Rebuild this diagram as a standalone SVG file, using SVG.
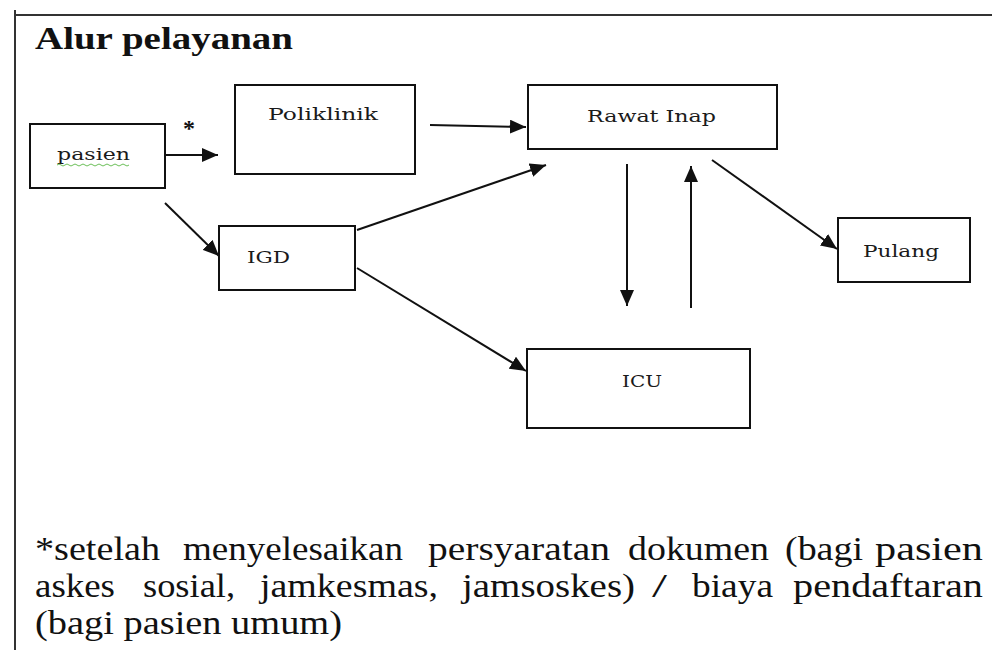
<svg xmlns="http://www.w3.org/2000/svg" width="992" height="650" viewBox="0 0 992 650">
<style>
.box{fill:#fff;stroke:#111;stroke-width:2}
.lbl{font-family:"DejaVu Serif","Liberation Serif",serif;font-size:17px;fill:#1a1a1a}
.conn line{stroke:#111;stroke-width:2}
.title{font-family:"Liberation Serif","Times New Roman",serif;font-weight:bold;font-size:31px;fill:#111}
.note{font-family:"Liberation Serif","Times New Roman",serif;font-size:34px;fill:#111}
</style>
<defs>
<marker id="a" viewBox="0 0 16 14" refX="16" refY="7" markerWidth="16" markerHeight="14" markerUnits="userSpaceOnUse" orient="auto">
<path d="M0,0 L16,7 L0,14 z" fill="#111"/>
</marker>
</defs>
<rect width="992" height="650" fill="#fff"/>
<line x1="14" y1="15" x2="992" y2="15" stroke="#333" stroke-width="2"/>
<line x1="15" y1="10" x2="15" y2="650" stroke="#333" stroke-width="2"/>
<text class="title" x="35" y="49" textLength="258" lengthAdjust="spacingAndGlyphs">Alur pelayanan</text>

<g id="connectors" class="conn">
<line x1="166" y1="155" x2="218" y2="155" marker-end="url(#a)"/>
<line x1="430" y1="125" x2="526" y2="127" marker-end="url(#a)"/>
<line x1="165" y1="203" x2="219" y2="256" marker-end="url(#a)"/>
<line x1="357" y1="230" x2="546" y2="165" marker-end="url(#a)"/>
<line x1="357" y1="268" x2="526" y2="371" marker-end="url(#a)"/>
<line x1="627" y1="164" x2="627" y2="306" marker-end="url(#a)"/>
<line x1="691" y1="308" x2="691" y2="166" marker-end="url(#a)"/>
<line x1="712" y1="160" x2="837" y2="249" marker-end="url(#a)"/>
</g>
<text x="183" y="136" font-family="Liberation Serif,serif" font-weight="bold" font-size="24" fill="#111">*</text>

<g id="pasien">
<rect class="box" x="30" y="124" width="135" height="64"/>
<text class="lbl" x="57" y="160" textLength="73" lengthAdjust="spacingAndGlyphs">pasien</text>
<path d="M57,165 q2,-2 4,0 t4,0 t4,0 t4,0 t4,0 t4,0 t4,0 t4,0 t4,0 t4,0 t4,0 t4,0 t4,0 t4,0 t4,0 t4,0 t4,0 t4,0" fill="none" stroke="#6bbf59" stroke-width="1"/>
</g>
<g id="poliklinik">
<rect class="box" x="235" y="85" width="180" height="89"/>
<text class="lbl" x="268" y="120" textLength="110" lengthAdjust="spacingAndGlyphs">Poliklinik</text>
</g>
<g id="rawat-inap">
<rect class="box" x="528" y="85" width="249" height="64"/>
<text class="lbl" x="587" y="122" textLength="129" lengthAdjust="spacingAndGlyphs">Rawat Inap</text>
</g>
<g id="igd">
<rect class="box" x="219" y="226" width="136" height="64"/>
<text class="lbl" x="247" y="263" textLength="43" lengthAdjust="spacingAndGlyphs">IGD</text>
</g>
<g id="icu">
<rect class="box" x="527" y="349" width="223" height="79"/>
<text class="lbl" x="622" y="387" textLength="40" lengthAdjust="spacingAndGlyphs">ICU</text>
</g>
<g id="pulang">
<rect class="box" x="838" y="218" width="132" height="64"/>
<text class="lbl" x="863" y="257" textLength="76" lengthAdjust="spacingAndGlyphs">Pulang</text>
</g>

<g class="note">
<text x="35" y="560" textLength="125" lengthAdjust="spacingAndGlyphs">*setelah</text>
<text x="183" y="560" textLength="220" lengthAdjust="spacingAndGlyphs">menyelesaikan</text>
<text x="428" y="560" textLength="182" lengthAdjust="spacingAndGlyphs">persyaratan</text>
<text x="628" y="560" textLength="141" lengthAdjust="spacingAndGlyphs">dokumen</text>
<text x="785" y="560" textLength="78" lengthAdjust="spacingAndGlyphs">(bagi</text>
<text x="875" y="560" textLength="108" lengthAdjust="spacingAndGlyphs">pasien</text>
<text x="35" y="597" textLength="80" lengthAdjust="spacingAndGlyphs">askes</text>
<text x="143" y="597" textLength="92" lengthAdjust="spacingAndGlyphs">sosial,</text>
<text x="260" y="597" textLength="178" lengthAdjust="spacingAndGlyphs">jamkesmas,</text>
<text x="462" y="597" textLength="173" lengthAdjust="spacingAndGlyphs">jamsoskes)</text>
<text x="652" y="597" textLength="15" lengthAdjust="spacingAndGlyphs">/</text>
<text x="692" y="597" textLength="81" lengthAdjust="spacingAndGlyphs">biaya</text>
<text x="793" y="597" textLength="190" lengthAdjust="spacingAndGlyphs">pendaftaran</text>
<text x="35" y="634" textLength="307" lengthAdjust="spacingAndGlyphs">(bagi pasien umum)</text>
</g>
</svg>
